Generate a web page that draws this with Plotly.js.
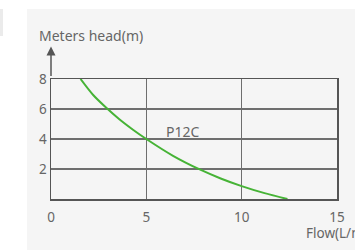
<!DOCTYPE html>
<html>
<head>
<meta charset="utf-8">
<script src="https://cdn.plot.ly/plotly-3.0.1.min.js"></script>
<style>
  html, body { margin: 0; padding: 0; background: #ffffff; width: 355px; height: 250px; overflow: hidden; }
  #strip { position: absolute; left: 0; top: 9px; width: 3px; height: 27px; background: #ebebeb; }
  #panel { position: absolute; left: 27px; top: 9px; width: 328px; height: 241px; background: #f5f5f5; }
  #chart { position: absolute; left: 0; top: 0; width: 355px; height: 250px; }
</style>
</head>
<body>
<div id="strip"></div>
<div id="panel"></div>
<div id="chart"></div>
<script>
// Pump curve P12C: flow (L/min) vs head (m)
const flow = [1.55, 2.2, 2.9, 3.6, 4.3, 5.0, 6.4, 7.8, 8.9, 10.0, 11.2, 12.4];
const head = [8.0, 6.95, 6.08, 5.3, 4.62, 4.0, 2.88, 1.97, 1.37, 0.86, 0.39, 0.0];
const seriesName = "P12C";
const xTicks = [0, 5, 10, 15];
const yTicks = [2, 4, 6, 8];
const yTitle = "Meters head(m)";
const xTitle = "Flow(L/min)";

const grid = "#6e6e6e";
const textCol = "#666666";
const fontFam = "Noto Sans, Roboto, sans-serif";

const trace = {
  x: flow, y: head, type: "scatter", mode: "lines",
  line: { color: "#46b336", width: 2, shape: "spline", smoothing: 0.8 },
  hoverinfo: "skip", showlegend: false
};

const layout = {
  width: 355, height: 250,
  margin: { l: 51, r: 18, t: 79, b: 51, pad: 0 },
  paper_bgcolor: "rgba(0,0,0,0)",
  plot_bgcolor: "rgba(0,0,0,0)",
  font: { family: fontFam, color: textCol, size: 13 },
  showlegend: false,
  xaxis: {
    range: [0, 15], tickvals: xTicks, ticktext: xTicks.map(String),
    showgrid: true, gridcolor: grid, gridwidth: 1.2,
    showline: true, linecolor: "#555", linewidth: 1.5, mirror: true,
    zeroline: false, ticks: "", ticklabelstandoff: 5,
    tickfont: { size: 13.5, color: textCol, family: fontFam }, fixedrange: true
  },
  yaxis: {
    range: [0, 8], tickvals: yTicks, ticktext: yTicks.map(String),
    showgrid: true, gridcolor: grid, gridwidth: 1.2,
    showline: true, linecolor: "#555", linewidth: 1.5, mirror: true,
    zeroline: false, ticks: "", ticklabelstandoff: 0,
    tickfont: { size: 13.5, color: textCol, family: fontFam }, fixedrange: true
  },
  annotations: [
    { xref: "x", yref: "y", x: 6.9, y: 4.5, text: seriesName, showarrow: false,
      font: { size: 14, color: textCol, family: fontFam } },
    { xref: "paper", yref: "paper", x: -0.048, y: 1.36, xanchor: "left", yanchor: "middle",
      text: yTitle, showarrow: false, font: { size: 14, color: textCol, family: fontFam } },
    { xref: "paper", yref: "paper", x: 0.885, y: -0.285, xanchor: "left", yanchor: "middle",
      text: xTitle, showarrow: false, font: { size: 13.5, color: textCol, family: fontFam } },
    { xref: "paper", yref: "paper", x: 0, y: 1.27, ax: 0, ay: 31, axref: "pixel", ayref: "pixel",
      text: "", showarrow: true, arrowhead: 2, arrowsize: 1.2, arrowwidth: 1.5, arrowcolor: "#555" }
  ]
};

Plotly.newPlot("chart", [trace], layout, { staticPlot: true, displayModeBar: false });
</script>
</body>
</html>
